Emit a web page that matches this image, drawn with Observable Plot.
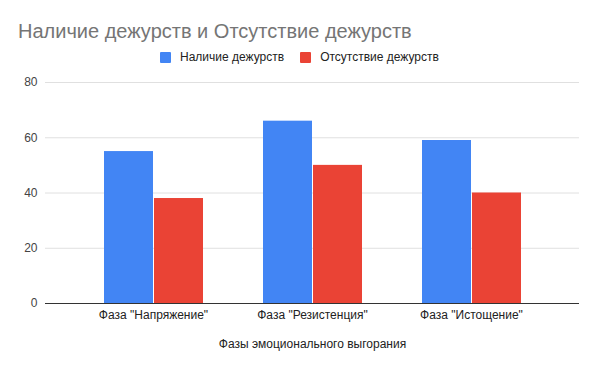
<!DOCTYPE html>
<html>
<head>
<meta charset="utf-8">
<script src="https://cdn.jsdelivr.net/npm/d3@7"></script>
<script src="https://cdn.jsdelivr.net/npm/@observablehq/plot@0.6"></script>
<style>
  html, body { margin: 0; padding: 0; background: #fff; }
  body { width: 598px; height: 370px; position: relative; overflow: hidden; font-family: "Liberation Sans", Arial, sans-serif; }
  #title { position: absolute; left: 18px; top: 19px; font-size: 20px; line-height: 24px; color: #757575; white-space: nowrap; }
  #legend { position: absolute; left: 160px; top: 50px; display: flex; align-items: center; font-size: 12px; line-height: 14px; color: #222; white-space: nowrap; }
  #legend .item { display: flex; align-items: center; margin-right: 16px; }
  #legend .sw { width: 11px; height: 11px; margin-right: 9px; border-radius: 1px; }
  #bg, #chart { position: absolute; left: 0; top: 70px; }
  #chart svg { background: transparent !important; }
</style>
</head>
<body>
<div id="title"></div>
<div id="legend"></div>
<div id="bg"></div>
<div id="chart"></div>
<script>
const titleText = "Наличие дежурств и Отсутствие дежурств";
const categories = ['Фаза "Напряжение"', 'Фаза "Резистенция"', 'Фаза "Истощение"'];
const seriesNames = ["Наличие дежурств", "Отсутствие дежурств"];
const presentValues = [55, 66, 59];
const absentValues = [38, 50, 40];
const seriesColors = ["#4285F4", "#EA4335"];
const yTicks = [0, 20, 40, 60, 80];
const xAxisLabel = "Фазы эмоционального выгорания";

document.getElementById("title").textContent = titleText;
const legend = document.getElementById("legend");
seriesNames.forEach((s, i) => {
  const item = document.createElement("div");
  item.className = "item";
  const sw = document.createElement("div");
  sw.className = "sw";
  sw.style.background = seriesColors[i];
  const t = document.createElement("span");
  t.textContent = s;
  item.appendChild(sw); item.appendChild(t);
  legend.appendChild(item);
});

const data = [];
categories.forEach((c, i) => {
  data.push({category: c, series: seriesNames[0], value: presentValues[i]});
  data.push({category: c, series: seriesNames[1], value: absentValues[i]});
});

const common = {
  width: 598,
  height: 300,
  marginLeft: 45,
  marginRight: 19,
  marginTop: 12,
  marginBottom: 67,
  style: {fontFamily: "'Liberation Sans', Arial, sans-serif", fontSize: "12px", color: "#222", background: "transparent"}
};

// Background layer: grid, y tick labels, baseline (spanning the whole frame)
const bg = Plot.plot({
  ...common,
  y: {domain: [0, 80], axis: null},
  marks: [
    Plot.ruleY(yTicks.filter(d => d > 0), {y: d => d, stroke: "#e0e0e0", strokeWidth: 1}),
    Plot.text(yTicks, {y: d => d, frameAnchor: "left", dx: -8, textAnchor: "end", text: d => String(d), fill: "#444", fontSize: 12}),
    Plot.ruleY([0], {stroke: "#333", strokeWidth: 1})
  ]
});
document.getElementById("bg").appendChild(bg);

// Bars layer: grouped bars via fx facets
const chart = Plot.plot({
  ...common,
  fx: {domain: categories, paddingInner: 0.37, paddingOuter: 0.354, label: xAxisLabel, labelAnchor: "center", labelOffset: 44, tickSize: 0, tickPadding: 7},
  x: {domain: seriesNames, paddingInner: 0.03, paddingOuter: 0, axis: null},
  y: {domain: [0, 80], axis: null},
  color: {domain: seriesNames, range: seriesColors},
  marks: [
    Plot.barY(data, {fx: "category", x: "series", y: "value", fill: "series"})
  ]
});
document.getElementById("chart").appendChild(chart);
</script>
</body>
</html>
